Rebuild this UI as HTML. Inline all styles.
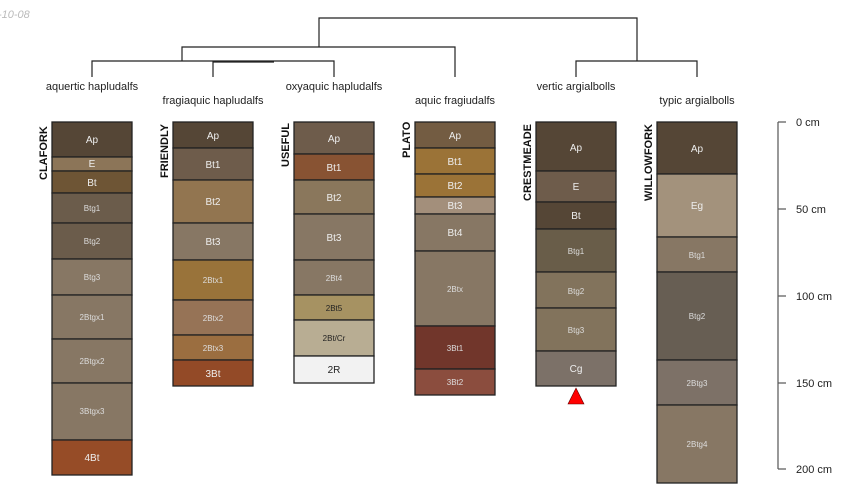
<!DOCTYPE html>
<html><head><meta charset="utf-8"><style>
body{margin:0;background:#fff}
svg{display:block;font-family:"Liberation Sans",sans-serif}
.w{fill:#eee;text-anchor:middle;font-size:10px}
.s{fill:#ddd;text-anchor:middle;font-size:8px}
.k{fill:#222;text-anchor:middle;font-size:8px}
.h rect{stroke:#222;stroke-width:1.3}
.t{font-size:11px;fill:#222;text-anchor:middle}
.r{font-size:10px;fill:#222;text-anchor:middle}
.n{font-size:11px;font-weight:bold;fill:#111;text-anchor:start}
</style></head><body>
<svg width="850" height="500" viewBox="0 0 850 500">
<text x="-2" y="18" font-size="11" font-style="italic" fill="#bbb">-10-08</text>
<g stroke="#222" stroke-width="1.2" fill="none">
<polyline points="319,47 319,18 637,18 637,61"/>
<polyline points="182,61 182,47 455,47 455,77"/>
<polyline points="92,77 92,61 334,61 334,77"/>
<polyline points="213,77 213,62 274,62"/>
<polyline points="576,77 576,61 697,61 697,77"/>
</g>
<text class="t" x="92" y="90">aquertic hapludalfs</text>
<text class="t" x="213" y="104">fragiaquic hapludalfs</text>
<text class="t" x="334" y="90">oxyaquic hapludalfs</text>
<text class="t" x="455" y="104">aquic fragiudalfs</text>
<text class="t" x="576" y="90">vertic argialbolls</text>
<text class="t" x="697" y="104">typic argialbolls</text>

<text class="n" transform="translate(47,180) rotate(-90)">CLAFORK</text>
<text class="n" transform="translate(168,178) rotate(-90)">FRIENDLY</text>
<text class="n" transform="translate(289,167) rotate(-90)">USEFUL</text>
<text class="n" transform="translate(410,158) rotate(-90)">PLATO</text>
<text class="n" transform="translate(531,201) rotate(-90)">CRESTMEADE</text>
<text class="n" transform="translate(652,201) rotate(-90)">WILLOWFORK</text>

<g class="h">
<rect x="52" y="122" width="80" height="35" fill="#554636"/>
<rect x="52" y="157" width="80" height="14" fill="#8c7558"/>
<rect x="52" y="171" width="80" height="22" fill="#6e5535"/>
<rect x="52" y="193" width="80" height="30" fill="#6b5c4b"/>
<rect x="52" y="223" width="80" height="36" fill="#6b5c4b"/>
<rect x="52" y="259" width="80" height="36" fill="#877764"/>
<rect x="52" y="295" width="80" height="44" fill="#877764"/>
<rect x="52" y="339" width="80" height="44" fill="#877764"/>
<rect x="52" y="383" width="80" height="57" fill="#877764"/>
<rect x="52" y="440" width="80" height="35" fill="#964c27"/>

<rect x="173" y="122" width="80" height="26" fill="#554636"/>
<rect x="173" y="148" width="80" height="32" fill="#6e5c4b"/>
<rect x="173" y="180" width="80" height="43" fill="#927550"/>
<rect x="173" y="223" width="80" height="37" fill="#877764"/>
<rect x="173" y="260" width="80" height="40" fill="#99733a"/>
<rect x="173" y="300" width="80" height="35" fill="#967356"/>
<rect x="173" y="335" width="80" height="25" fill="#9b6e40"/>
<rect x="173" y="360" width="80" height="26" fill="#934a27"/>

<rect x="294" y="122" width="80" height="32" fill="#6e5c4b"/>
<rect x="294" y="154" width="80" height="26" fill="#885333"/>
<rect x="294" y="180" width="80" height="34" fill="#8a775c"/>
<rect x="294" y="214" width="80" height="46" fill="#877764"/>
<rect x="294" y="260" width="80" height="35" fill="#877764"/>
<rect x="294" y="295" width="80" height="25" fill="#a69262"/>
<rect x="294" y="320" width="80" height="36" fill="#b8ad93"/>
<rect x="294" y="356" width="80" height="27" fill="#f2f2f2"/>

<rect x="415" y="122" width="80" height="26" fill="#735c42"/>
<rect x="415" y="148" width="80" height="26" fill="#9b7337"/>
<rect x="415" y="174" width="80" height="23" fill="#9b7337"/>
<rect x="415" y="197" width="80" height="17" fill="#a38f7b"/>
<rect x="415" y="214" width="80" height="37" fill="#877764"/>
<rect x="415" y="251" width="80" height="75" fill="#877764"/>
<rect x="415" y="326" width="80" height="43" fill="#71362b"/>
<rect x="415" y="369" width="80" height="26" fill="#8b4d3e"/>

<rect x="536" y="122" width="80" height="49" fill="#554636"/>
<rect x="536" y="171" width="80" height="31" fill="#6e5c4b"/>
<rect x="536" y="202" width="80" height="27" fill="#554636"/>
<rect x="536" y="229" width="80" height="43" fill="#695d49"/>
<rect x="536" y="272" width="80" height="36" fill="#82735c"/>
<rect x="536" y="308" width="80" height="43" fill="#82735c"/>
<rect x="536" y="351" width="80" height="35" fill="#7c7168"/>

<rect x="657" y="122" width="80" height="52" fill="#554636"/>
<rect x="657" y="174" width="80" height="63" fill="#a3927c"/>
<rect x="657" y="237" width="80" height="35" fill="#877764"/>
<rect x="657" y="272" width="80" height="88" fill="#675e53"/>
<rect x="657" y="360" width="80" height="45" fill="#7d7167"/>
<rect x="657" y="405" width="80" height="78" fill="#877764"/>
</g>
<polygon points="576,388 584,404 568,404" fill="#f00" stroke="#600" stroke-width="0.6"/>

<text class="w" x="92" y="143">Ap</text><text class="w" x="92" y="167">E</text><text class="w" x="92" y="186">Bt</text>
<text class="s" x="92" y="211">Btg1</text><text class="s" x="92" y="244">Btg2</text><text class="s" x="92" y="280">Btg3</text>
<text class="s" x="92" y="320">2Btgx1</text><text class="s" x="92" y="364">2Btgx2</text><text class="s" x="92" y="414">3Btgx3</text>
<text class="w" x="92" y="461">4Bt</text>

<text class="w" x="213" y="139">Ap</text><text class="w" x="213" y="168">Bt1</text><text class="w" x="213" y="205">Bt2</text>
<text class="w" x="213" y="245">Bt3</text><text class="s" x="213" y="283">2Btx1</text><text class="s" x="213" y="321">2Btx2</text>
<text class="s" x="213" y="351">2Btx3</text><text class="w" x="213" y="377">3Bt</text>

<text class="w" x="334" y="142">Ap</text><text class="w" x="334" y="171">Bt1</text><text class="w" x="334" y="201">Bt2</text>
<text class="w" x="334" y="241">Bt3</text><text class="s" x="334" y="281">2Bt4</text><text class="k" x="334" y="311">2Bt5</text>
<text class="k" x="334" y="341">2Bt/Cr</text><text class="r" x="334" y="373">2R</text>

<text class="w" x="455" y="139">Ap</text><text class="w" x="455" y="165">Bt1</text><text class="w" x="455" y="189">Bt2</text>
<text class="w" x="455" y="209">Bt3</text><text class="w" x="455" y="236">Bt4</text><text class="s" x="455" y="292">2Btx</text>
<text class="s" x="455" y="351">3Bt1</text><text class="s" x="455" y="385">3Bt2</text>

<text class="w" x="576" y="151">Ap</text><text class="w" x="576" y="190">E</text><text class="w" x="576" y="219">Bt</text>
<text class="s" x="576" y="254">Btg1</text><text class="s" x="576" y="294">Btg2</text><text class="s" x="576" y="333">Btg3</text>
<text class="w" x="576" y="372">Cg</text>

<text class="w" x="697" y="152">Ap</text><text class="w" x="697" y="209">Eg</text><text class="s" x="697" y="258">Btg1</text>
<text class="s" x="697" y="319">Btg2</text><text class="s" x="697" y="386">2Btg3</text><text class="s" x="697" y="447">2Btg4</text>

<g stroke="#555" stroke-width="1.2">
<line x1="778" y1="122" x2="778" y2="469"/>
<line x1="778" y1="122" x2="786" y2="122"/>
<line x1="778" y1="209" x2="786" y2="209"/>
<line x1="778" y1="296" x2="786" y2="296"/>
<line x1="778" y1="383" x2="786" y2="383"/>
<line x1="778" y1="469" x2="786" y2="469"/>
</g>
<g font-size="11" fill="#222">
<text x="796" y="126">0 cm</text><text x="796" y="213">50 cm</text><text x="796" y="300">100 cm</text>
<text x="796" y="387">150 cm</text><text x="796" y="473">200 cm</text>
</g>
</svg>
</body></html>
